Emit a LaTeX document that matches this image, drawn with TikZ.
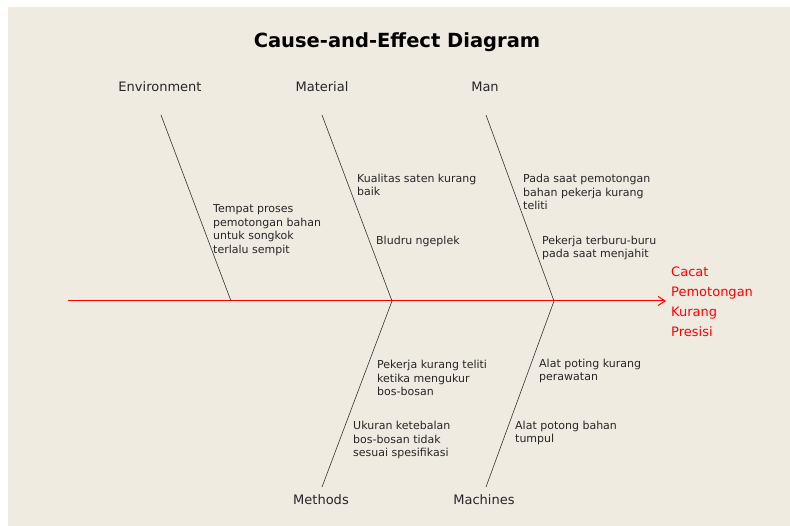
\documentclass[tikz,border=0pt]{standalone}
\usepackage{fontspec}
\setmainfont{DejaVu Sans}
\usetikzlibrary{arrows.meta, positioning}
\definecolor{panel}{RGB}{239,235,225}
\tikzstyle{cause} = [text=black!85, font=\fontsize{11}{13.6}\selectfont, align=left, anchor=west, inner sep=0pt]
\tikzstyle{category} = [text=black!85, font=\fontsize{13}{15}\selectfont, inner sep=0pt, text height=9.5pt, text depth=2.5pt]
\tikzstyle{effect} = [text=red, font=\fontsize{13}{20}\selectfont, align=left, anchor=west, inner sep=0pt]
\tikzstyle{bone} = [draw=black!80, line width=0.6pt]
\tikzstyle{spine} = [color=red, line width=1pt]

\begin{document}
\begin{tikzpicture}[x=1pt, y=-1pt]
\useasboundingbox (0,0) rectangle (790,526);
\fill[white] (0,0) rectangle (790,526);
\fill[panel] (8,7) rectangle (790,526);
\node (title) [font=\bfseries\fontsize{19.5}{22}\selectfont] at (397,42) {Cause-and-Effect Diagram};
% category heads
\node (env) [category] at (160,88) {Environment};
\node (mat) [category] at (322,88) {Material};
\node (man) [category] at (485,88) {Man};
\node (met) [category] at (321,501) {Methods};
\node (mac) [category] at (484,501) {Machines};
% bone ends
\coordinate (envtop) at (161,115);
\coordinate (mattop) at (322,115);
\coordinate (mantop) at (486,115);
\coordinate (metbot) at (322,487);
\coordinate (macbot) at (486,487);
\coordinate (tail) at (68,301);
\coordinate (j1) at (231,301);
\coordinate (j2) at (392,301);
\coordinate (j3) at (554,301);
% effect
\node (eff) [effect] at (671,302) {Cacat\\Pemotongan\\Kurang\\Presisi};
\coordinate (tip) at (666,301);
\draw [spine, -{Straight Barb[length=7pt, width=9pt]}] (tail) -- (tip);
\draw [bone] (envtop) -- (j1);
\draw [bone] (mattop) -- (j2);
\draw [bone] (mantop) -- (j3);
\draw [bone] (j2) -- (metbot);
\draw [bone] (j3) -- (macbot);
% causes
\node (c1) [cause] at (213,230) {Tempat proses\\pemotongan bahan\\untuk songkok\\terlalu sempit};
\node (c2) [cause] at (357,185) {Kualitas saten kurang\\baik};
\node (c3) [cause] at (376,241) {Bludru ngeplek};
\node (c4) [cause] at (523,192) {Pada saat pemotongan\\bahan pekerja kurang\\teliti};
\node (c5) [cause] at (542,248) {Pekerja terburu-buru\\pada saat menjahit};
\node (c6) [cause] at (377,378) {Pekerja kurang teliti\\ketika mengukur\\bos-bosan};
\node (c7) [cause] at (353,440) {Ukuran ketebalan\\bos-bosan tidak\\sesuai spesifikasi};
\node (c8) [cause] at (539,371) {Alat poting kurang\\perawatan};
\node (c9) [cause] at (515,433) {Alat potong bahan\\tumpul};
\end{tikzpicture}
\end{document}
